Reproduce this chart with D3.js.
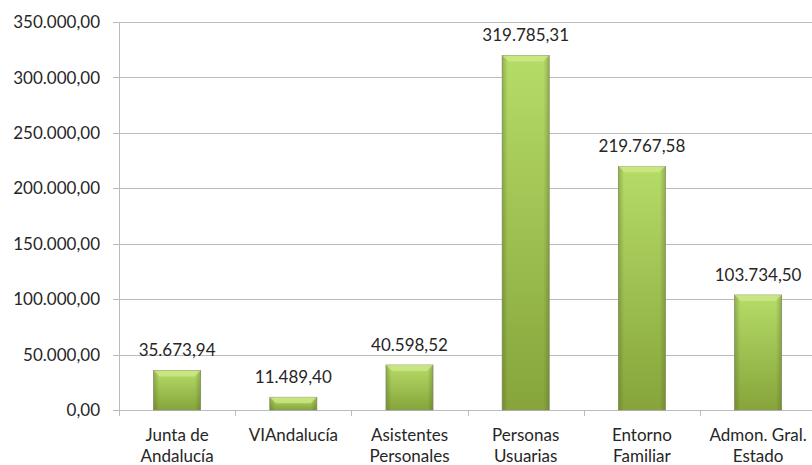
<!DOCTYPE html>
<html>
<head>
<meta charset="utf-8">
<script src="https://cdn.jsdelivr.net/npm/d3@7"></script>
<style>
  body { margin: 0; background: #fff; }
  svg { display: block; font-family: Lato, "Noto Sans", sans-serif; }
</style>
</head>
<body>
<div id="chart-area"></div>
<script>
// data
var categories = [["Junta de", "Andalucía"], ["VIAndalucía"], ["Asistentes", "Personales"],
                  ["Personas", "Usuarias"], ["Entorno", "Familiar"], ["Admon. Gral.", "Estado"]];
var values = [35673.94, 11489.40, 40598.52, 319785.31, 219767.58, 103734.50];
var yTicks = [0, 50000, 100000, 150000, 200000, 250000, 300000, 350000];

var W = 812, H = 465;
var margin = { left: 119, top: 22 };
var plotW = 6 * 116.2, plotH = 388;

var fmt = function(v) {
    var s = d3.format(",.2f")(v);
    return s.replace(/,/g, "#").replace(".", ",").replace(/#/g, ".");
};

var svg = d3.select("#chart-area")
    .append("svg")
        .attr("width", W)
        .attr("height", H);

var defs = svg.append("defs");
var grad = defs.append("linearGradient").attr("id", "barGrad")
    .attr("x1", 0).attr("y1", 0).attr("x2", 0).attr("y2", 1);
grad.append("stop").attr("offset", "0%").attr("stop-color", "#b6dc68");
grad.append("stop").attr("offset", "100%").attr("stop-color", "#86a43a");

var side = defs.append("linearGradient").attr("id", "sideGrad")
    .attr("x1", 0).attr("y1", 0).attr("x2", 1).attr("y2", 0);
side.append("stop").attr("offset", "0%").attr("stop-color", "#4d5f1c").attr("stop-opacity", 0.35);
side.append("stop").attr("offset", "12%").attr("stop-color", "#4d5f1c").attr("stop-opacity", 0);
side.append("stop").attr("offset", "88%").attr("stop-color", "#4d5f1c").attr("stop-opacity", 0);
side.append("stop").attr("offset", "100%").attr("stop-color", "#4d5f1c").attr("stop-opacity", 0.35);

var g = svg.append("g")
    .attr("transform", "translate(" + margin.left + "," + margin.top + ")");

// scales
var x = d3.scaleBand()
    .domain(d3.range(categories.length))
    .range([0, plotW])
    .paddingInner(0.595)
    .paddingOuter(0.2975);

var y = d3.scaleLinear()
    .domain([0, 350000])
    .range([plotH, 0]);

// gridlines
g.selectAll("line.grid")
    .data(yTicks)
    .enter().append("line")
        .attr("class", "grid")
        .attr("x1", -6)
        .attr("x2", plotW)
        .attr("y1", function(d){ return Math.round(y(d)) + 0.5; })
        .attr("y2", function(d){ return Math.round(y(d)) + 0.5; })
        .attr("stroke", "#bcbcbc")
        .attr("stroke-width", 1);

// y labels
g.selectAll("text.ylab")
    .data(yTicks)
    .enter().append("text")
        .attr("class", "ylab")
        .attr("x", -19)
        .attr("y", function(d){ return y(d); })
        .attr("dy", "0.36em")
        .attr("text-anchor", "end")
        .attr("font-size", "17px")
        .attr("fill", "#262626")
        .text(function(d){ return fmt(d); });

// y axis line
g.append("line")
    .attr("x1", 0.5).attr("x2", 0.5)
    .attr("y1", 0).attr("y2", plotH)
    .attr("stroke", "#bcbcbc");

// x category ticks
g.selectAll("line.xtick")
    .data(d3.range(categories.length + 1))
    .enter().append("line")
        .attr("class", "xtick")
        .attr("x1", function(d){ return Math.round(d * x.step()) + 0.5; })
        .attr("x2", function(d){ return Math.round(d * x.step()) + 0.5; })
        .attr("y1", plotH)
        .attr("y2", plotH + 6)
        .attr("stroke", "#bcbcbc");

// bars
var bars = g.selectAll("g.bar")
    .data(values)
    .enter().append("g")
        .attr("class", "bar");

bars.append("rect")
    .attr("x", function(d, i){ return x(i); })
    .attr("y", function(d){ return y(d); })
    .attr("width", x.bandwidth())
    .attr("height", function(d){ return plotH - y(d); })
    .attr("fill", "url(#barGrad)")
    .attr("stroke", "#8f9a7a")
    .attr("stroke-width", 0.8);

bars.append("rect")
    .attr("x", function(d, i){ return x(i); })
    .attr("y", function(d){ return y(d); })
    .attr("width", x.bandwidth())
    .attr("height", function(d){ return plotH - y(d); })
    .attr("fill", "url(#sideGrad)");

// top bevel
bars.append("path")
    .attr("d", function(d, i){
        var x0 = x(i), x1 = x(i) + x.bandwidth(), t = y(d), b = 6;
        return "M" + x0 + "," + t + "L" + x1 + "," + t + "L" + (x1 - b) + "," + (t + b) + "L" + (x0 + b) + "," + (t + b) + "Z";
    })
    .attr("fill", "#d2ec8c")
    .attr("opacity", 0.7);

// value labels
g.selectAll("text.val")
    .data(values)
    .enter().append("text")
        .attr("class", "val")
        .attr("x", function(d, i){ return x(i) + x.bandwidth() / 2; })
        .attr("y", function(d){ return y(d) - 14; })
        .attr("text-anchor", "middle")
        .attr("font-size", "17px")
        .attr("fill", "#262626")
        .text(function(d){ return fmt(d); });

// category labels
var cat = g.selectAll("text.cat")
    .data(categories)
    .enter().append("text")
        .attr("class", "cat")
        .attr("x", function(d, i){ return x(i) + x.bandwidth() / 2; })
        .attr("y", plotH + 31)
        .attr("text-anchor", "middle")
        .attr("font-size", "17px")
        .attr("fill", "#262626");

cat.selectAll("tspan")
    .data(function(d){ return d; })
    .enter().append("tspan")
        .attr("x", function(){ return d3.select(this.parentNode).attr("x"); })
        .attr("dy", function(d, i){ return i === 0 ? 0 : 21; })
        .text(function(d){ return d; });
</script>
</body>
</html>
